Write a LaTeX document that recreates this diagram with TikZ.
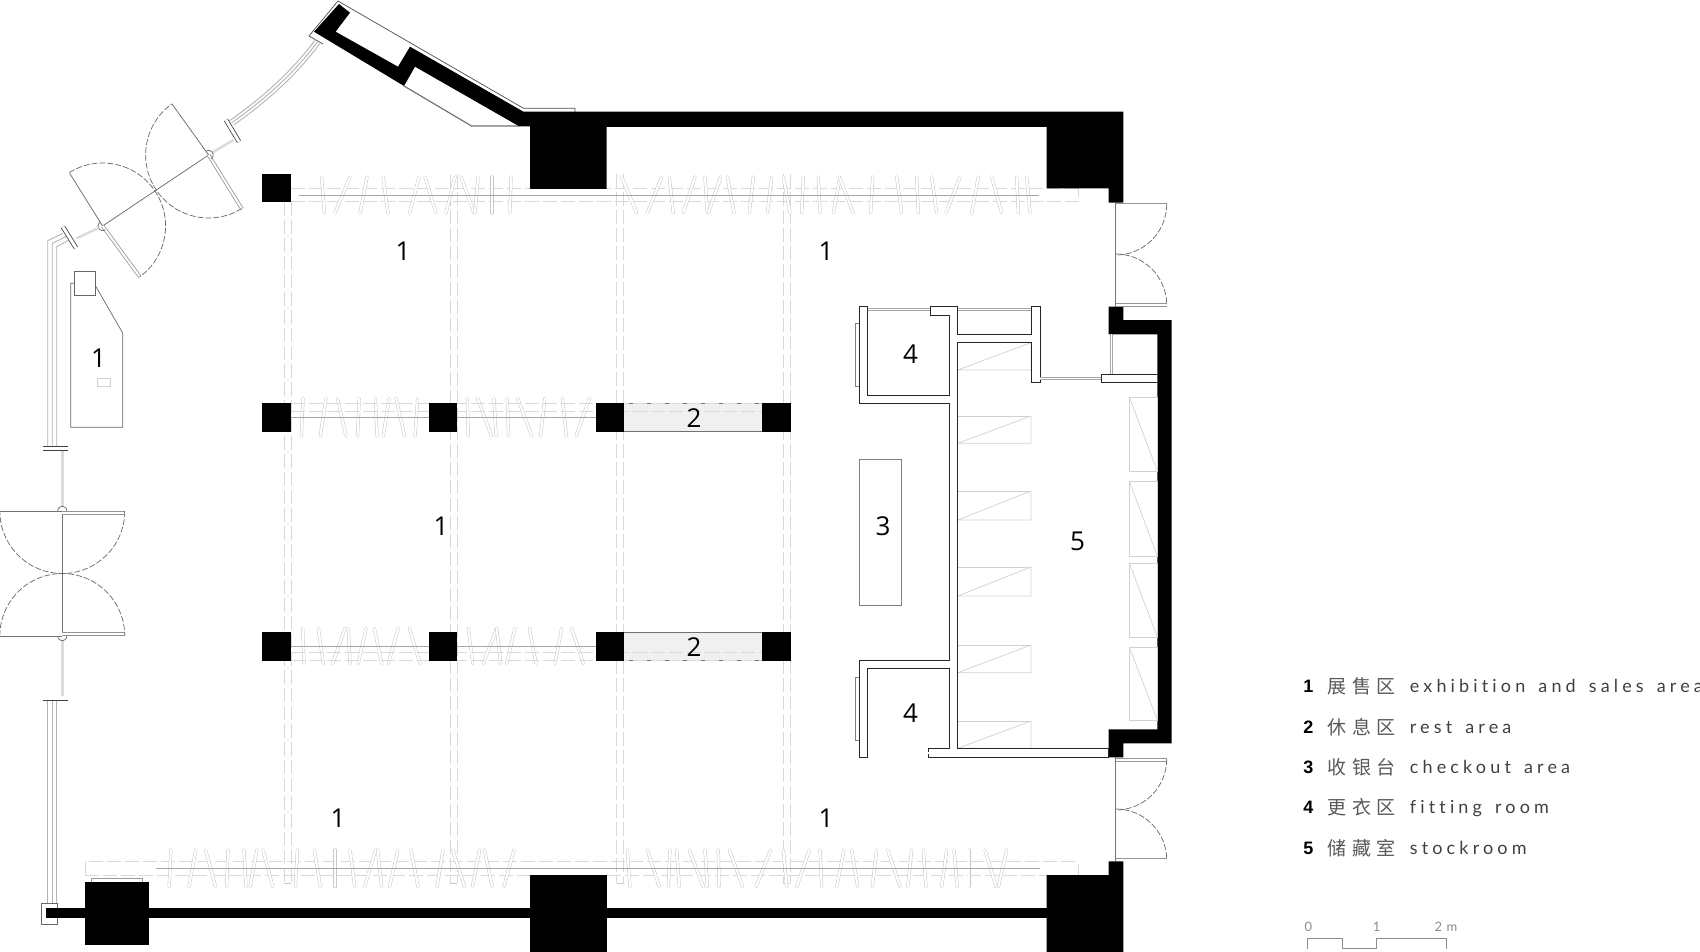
\documentclass[tikz,border=0pt]{standalone}
\usepackage{fontspec}
\setmainfont{Open Sans}
\newfontfamily\cjk[LetterSpace=30]{Noto Sans CJK SC}
\newfontfamily\latn[LetterSpace=23,WordSpace=1.5,Ligatures=NoCommon]{Lato}
\newfontfamily\skala[LetterSpace=10]{Lato}
\newfontfamily\zahl{Liberation Sans}

\tikzset{
	haken/.style={line width=0.5pt,draw=black!22,double=white,double distance=2.2pt,line cap=round},
	stange/.style={line width=0.9pt,color=black!35},
	strich/.style={line width=0.6pt,color=black!15,dash pattern=on 14pt off 4pt},
	glas/.style={line width=0.9pt,color=black!30},
	fein/.style={line width=0.8pt,color=black!55},
	blatt/.style={line width=0.8pt,draw=black!42,double=white,double distance=2pt},
	fenster/.style={line width=0.7pt,draw=black!35,double=white,double distance=1.5pt},
	klammer/.style={line width=0.8pt,draw=black!75,double=white,double distance=3pt},
	bahn/.style={line width=2.5pt,color=black!14},
	schwung/.style={line width=0.7pt,color=black!60,dash pattern=on 6pt off 2pt},
	regal/.style={line width=0.7pt,color=black!18},
	wand/.style={line width=1pt,draw=black!85,fill=white},
	ziffer/.style={font=\fontsize{26}{26}\selectfont,inner sep=0pt},
}
\def\bogen#1#2#3#4#5#6{\draw[#1,domain=#5:#6,samples=40] plot ({#2+#4*cos(\x)},{#3+#4*sin(\x)});}
\def\knoten#1#2#3#4{\node[ziffer] (#1) at (#2,#3) {#4};}
\def\buegel#1#2#3{
	\foreach \a/\b in {#3}{
		\draw[haken] (\a,#1)--(\b,#2);
	}
}

\begin{document}
\begin{tikzpicture}[x=1pt,y=-1pt,>=latex,thick]
\useasboundingbox (0,0) rectangle (1700,952);

% dashed tracks
\foreach \t in {284,291}{
	\draw[strich] (\t,202)--(\t,883);
}
\foreach \t in {450,457,616.5,623.3,783,790}{
	\draw[strich] (\t,174)--(\t,883);
}
\draw[strich] (291,188.3)--(1078,188.3);
\draw[strich] (291,201.7)--(1078,201.7)--(1078,188.3);
\draw[strich] (85.4,875)--(85.4,861)--(1078,861);
\draw[strich] (85.4,875)--(1078,875)--(1078,861);
\foreach \t in {284,450,616.7,783}{
	\draw[line width=0.5pt,color=black!22] (\t,883)--(\t+7,883);
}

% hangers
\buegel{177}{213}{321.5/324.5,350/335,367/360,383/388,419/409.5,425/436,455/446,461/474,478/475,492/492,511/510,621.7/636.7,661.7/647.3,669.3/673.3,695/683.3,705/707.3,720.7/708.3,727.3/734,753.3/749.3,771.7/767.3,783.3/790,803.3/801.7,818.3/820,840/833.3,839.3/853.3,872.7/870.7,896.7/901.7,916.7/918.3,931.7/936.7,960/946,978.3/971.7,991.7/1001.7,1016.7/1018.3,1026.7/1030}
\buegel{398.3}{436}{303/301.3,326/320.3,337.5/346,359.2/357.5,375.4/377,389/383.3,396/404.6,417.7/415,467.3/468.3,477.6/491.4,494/496,507.2/508.6,517.6/532,544.8/540.6,562.3/566.5,589.5/576}
\buegel{628.3}{663.3}{302.7/304,318.3/323.3,345/332.7,348.3/350,366/358.3,374.3/381.7,398.3/388.3,409.3/420,468.3/472.7,496.7/483.3,496.7/500.7,515/506.7,529.3/536,561.7/555,571.7/583.3}
\buegel{850}{886.7}{170.8/169.2,195.7/189,205.6/215.5,228/226.6,244/246,257/250,263/272.8,297.4/295.4,314.3/320.3,335/335,350/354.7,375.6/364.6,377.6/381.6,398/389.5,411/418,443/437,452.7/464.6,479.6/472.5,484.4/492.3,514/504,627.3/630,647.3/659.3,670/668.3,676.7/679.3,689.3/703.3,705/707.3,718.3/719,729.3/742.7,770.7/756,783.3/786.7,809.3/796.7,820/821.7,844/836.7,851.7/857.7,876.7/872.3,887.7/900,911.7/907.7,923.3/926,946.7/941.7,954/957.3,969.3/969.3,985/996,1006.7/998.3}

% rods
\draw[stange] (298.5,195)--(1039,195);
\draw[stange] (156,868.3)--(1040,868.3);
\draw[stange] (291,417.3)--(595.7,417.3);
\draw[stange] (291,646)--(595.7,646);

% rest areas
\foreach \t/\u in {403.5/431.5,632.5/660.5}{
	\fill[black!6] (624,\t) rectangle (762,\u);
	\draw[line width=0.9pt,color=black!55] (624,\t)--(762,\t);
	\draw[line width=0.9pt,color=black!55] (624,\u)--(762,\u);
}
\foreach \t in {403.3,411,652.7,660}{
	\draw[strich] (291,\t)--(762,\t);
}

% columns
\fill (262,174) rectangle (291,202.3);
\foreach \u in {403,632.3}{
	\foreach \t in {262.3,428.7,595.7,762}{
		\fill (\t,\u) rectangle (\t+28.5,\u+28.5);
	}
}

% angled wall
\draw[line width=0.7pt,color=black!70] (323,44)--(309,36)--(338,1)--(523.5,108.3)--(575,108.3)--(575,112);
\draw[line width=1.2pt,color=black!55] (404,86)--(471.5,126)--(530,126);
\fill (339,4)--(350,12.7)--(335.6,31.7)--(398,66.7)--(410,46.7)--(523.5,111.7)--(1123.3,111.7)
	--(1123.3,202.7)--(1108.7,202.7)--(1108.7,188.5)--(1046.7,188.5)--(1046.7,127)--(606.5,127)
	--(606.5,189)--(530,189)--(530,126)--(518.6,126)--(415,66.7)--(404,86)--(314,31.7)--cycle;

% bottom wall
\draw[line width=0.8pt,color=black!60] (57.3,903)--(41.5,903)--(41.5,924)--(57.3,924)--cycle;
\draw[line width=0.7pt,color=black!40] (91.7,881.7)--(91.7,878.3)--(142.4,878.3)--(142.4,881.7);
\fill (45.5,908.3) rectangle (85.4,918.3);
\fill (85.4,881.7) rectangle (148.7,945);
\fill (148.7,908.3) rectangle (530,918.3);
\fill (530,875) rectangle (606.6,952);
\fill (606.6,908.3) rectangle (1046.7,918.3);
\fill (1046.7,875)--(1108.7,875)--(1108.7,861.3)--(1123.3,861.3)--(1123.3,952)--(1046.7,952)--cycle;

% east wall
\fill (1108.7,306.7)--(1123.3,306.7)--(1123.3,320)--(1171.7,320)--(1171.7,743.3)--(1123.3,743.3)--(1123.3,757.3)
	--(1108.7,757.3)--(1108.7,729.3)--(1157.3,729.3)--(1157.3,334.3)--(1108.7,334.3)--cycle;

% shelves
\foreach \t/\u in {342.7/370,416/443.3,491/520,567/596,645/672.7,721/748.3}{
	\draw[regal] (1031,\t)--(957.7,\u)--(1031,\u)--(1031,\t);
	\draw[regal] (957.7,\t)--(1031,\t);
}
\foreach \t/\u in {397/471,481/556,563/637,647/720}{
	\draw[regal] (1129.3,\t) rectangle (1157.3,\u);
	\draw[regal] (1129.3,\t)--(1157.3,\u);
}

% partition
\draw[wand] (859.3,306)--(867.7,306)--(867.7,395)--(949.3,395)--(949.3,315)--(930,315)--(930,306)
	--(957.7,306)--(957.7,334.3)--(1031,334.3)--(1031,306)--(1040,306)--(1040,382.7)--(1031,382.7)
	--(1031,342.7)--(957.7,342.7)--(957.7,748.3)--(1108.7,748.3)--(1108.7,757.3)--(928.7,757.3)
	--(928.7,748.3)--(949.3,748.3)--(949.3,668.3)--(867.7,668.3)--(867.7,757.3)--(859.3,757.3)
	--(859.3,660)--(949.3,660)--(949.3,403.3)--(859.3,403.3)--cycle;
\draw[fenster] (867.7,309.5)--(930,309.5);
\draw[fenster] (957.7,309.5)--(1031,309.5);
\draw[fenster] (867.7,753)--(928.7,753);
\draw[fenster] (1040,378.7)--(1101.7,378.7);
\draw[fenster] (1111.7,334.3)--(1111.7,374.3);
\draw[line width=0.6pt,color=black!50] (859.3,323.3)--(855.3,323.3)--(855.3,386.7)--(859.3,386.7);
\draw[line width=0.6pt,color=black!50] (859.3,677.3)--(855.3,677.3)--(855.3,740)--(859.3,740);
\draw[wand] (1157.3,374.3)--(1101.7,374.3)--(1101.7,382.7)--(1157.3,382.7);

% checkout and display
\draw[line width=0.9pt,color=black!50] (859.5,459) rectangle (901,605);
\draw[line width=0.7pt,color=black!60] (74.6,271.7) rectangle (95,295);
\draw[line width=0.7pt,color=black!60] (74.6,283.3)--(70.7,283.3)--(70.7,427.3)--(122.7,427.3)--(122.7,333)--(95,285);
\draw[line width=0.6pt,color=black!18] (97.3,378.3) rectangle (110,386.7);

% glazing north
\foreach \o in {-3,0,3}{
	\draw[glas,shift={(\o*0.7,\o*0.7)}] (317.6,41.7) .. controls (295,72) and (268,97) .. (231.5,123);
}
\draw[klammer] (226,120)--(239,141.7);
\draw[bahn] (233.5,140)--(212,152.7);

% door north
\draw[fein] (208.6,155)--(102.6,226);
\draw[fein] (208.6,155)--(172,104);
\draw[blatt] (208.6,155)--(242,209);
\draw[fein] (102.6,226)--(69.7,173.3);
\draw[blatt] (102.6,226)--(139.7,276.7);
\bogen{schwung}{208.6}{155}{63}{58.3}{234.3}
\bogen{schwung}{102.6}{226}{63}{-122}{54}
\bogen{fein}{208.6}{155}{4.5}{236}{416}
\bogen{fein}{102.6}{226}{4.5}{56}{236}

% glazing west
\foreach \t/\u/\v/\w in {47.7/240.7/63/233.3,52.2/243.5/66/236.5,56.7/246.7/69/240}{
	\draw[glas] (\t,446)--(\t,\u)--(\v,\w);
}
\foreach \t in {47.7,52.2,56.7}{
	\draw[glas] (\t,701)--(\t,903);
}
\draw[klammer] (63,227)--(76,248);
\draw[klammer] (42.7,448.5)--(68,448.5);
\draw[klammer] (42.7,698.8)--(68,698.8);
\draw[bahn] (76.5,238.3)--(98.7,228);
\draw[bahn] (62.3,451)--(62.3,506.7);
\draw[bahn] (62.3,640)--(62.3,696);

% door west
\draw[fein] (62.3,511)--(62.3,636);
\draw[fein] (0,511)--(62.3,511);
\draw[fein] (0,636)--(62.3,636);
\draw[blatt] (62.3,513)--(125,513);
\draw[blatt] (62.3,634)--(125,634);
\bogen{schwung}{62.3}{511}{62.5}{0}{180}
\bogen{schwung}{62.3}{636}{62.5}{180}{360}
\bogen{fein}{62.3}{511}{4.5}{180}{360}
\bogen{fein}{62.3}{636}{4.5}{0}{180}

% doors east
\draw[fein] (1115.7,202.7)--(1115.7,306.7);
\draw[blatt] (1115.7,204.7)--(1166.7,204.7);
\draw[blatt] (1115.7,305)--(1166.7,305);
\bogen{schwung}{1115.7}{204}{51}{0}{90}
\bogen{schwung}{1115.7}{305}{51}{270}{360}
\draw[fein] (1115.7,757.3)--(1115.7,861);
\draw[blatt] (1115.7,759.7)--(1166.7,759.7);
\draw[blatt] (1115.7,859.5)--(1166.7,859.5);
\bogen{schwung}{1115.7}{759}{51}{0}{90}
\bogen{schwung}{1115.7}{860}{51}{270}{360}

% labels
\knoten{a}{403}{251}{1}
\knoten{b}{826}{251}{1}
\knoten{c}{98.6}{358}{1}
\knoten{d}{441}{526}{1}
\knoten{e}{338}{818.5}{1}
\knoten{f}{826}{818.5}{1}
\knoten{g}{694}{418}{2}
\knoten{h}{694}{647}{2}
\knoten{i}{883}{526}{3}
\knoten{j}{910.5}{354.5}{4}
\knoten{k}{910.5}{713}{4}
\knoten{l}{1077.5}{541}{5}

% legend
\foreach \n/\y/\zh/\en in {1/686.5/展售区/exhibition and sales area,2/727/休息区/rest area,3/767/收银台/checkout area,4/807.5/更衣区/fitting room,5/848/储藏室/stockroom}{
	\node[font=\zahl\bfseries\fontsize{18}{18}\selectfont,inner sep=0pt] (num\n) at (1308.3,\y) {\n};
	\node[font=\cjk\fontsize{19}{19}\selectfont,color=black!65,anchor=west,inner sep=0pt] (zh\n) at (1327,\y) {\zh};
	\node[font=\latn\fontsize{18}{18}\selectfont,color=black!75,anchor=base west,inner sep=0pt] (en\n) at (1409.5,\y+6) {\en};
}

% scale
\draw[line width=0.8pt,color=black!45] (1307.3,948.7)--(1307.3,938.7)--(1342,938.7)--(1342,948.7)--(1376.7,948.7)--(1376.7,938.7)--(1446,938.7)--(1446,948.7);
\node[font=\skala\fontsize{13}{13}\selectfont,color=black!45,inner sep=0pt] (null) at (1308.3,926.7) {0};
\node[font=\skala\fontsize{13}{13}\selectfont,color=black!45,inner sep=0pt] (eins) at (1376.7,926.7) {1};
\node[font=\skala\fontsize{13}{13}\selectfont,color=black!45,inner sep=0pt] (zwei) at (1446,926.7) {2 m};

\end{tikzpicture}
\end{document}
